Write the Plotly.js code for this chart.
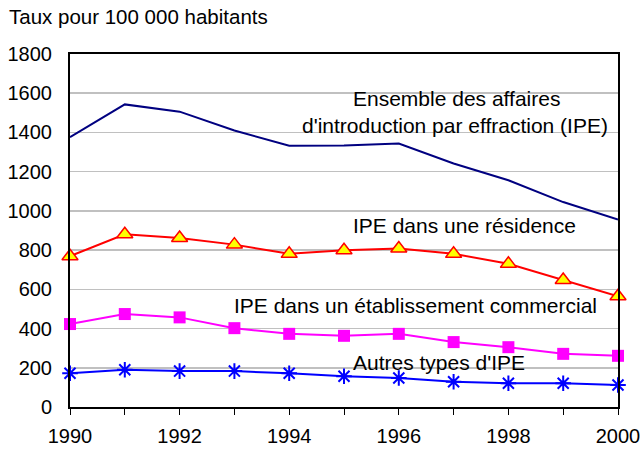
<!DOCTYPE html>
<html><head><meta charset="utf-8">
<script src="https://cdn.plot.ly/plotly-3.0.1.min.js"></script>
<style>body{margin:0;padding:0;background:#fff}#chart{width:641px;height:449px}</style>
</head><body><div id="chart"></div>
<script>
const years = [1990,1991,1992,1993,1994,1995,1996,1997,1998,1999,2000];
const ensemble = [1376,1543,1506,1410,1332,1333,1343,1242,1156,1045,956];
const residence = [769,881,862,828,781,799,808,781,730,648,565];
const commercial = [423,474,457,402,373,363,373,331,305,271,261];
const autres = [172,190,183,183,172,157,148,129,121,121,112];
const xTickVals = years;
const xTickText = years.map(y => (y % 2 === 0 ? String(y) : ''));
const yTickVals = [0,200,400,600,800,1000,1200,1400,1600,1800];

const traces = [
  {x: years, y: ensemble, mode: 'lines', line: {color: '#000080', width: 2}, cliponaxis: false},
  {x: years, y: residence, mode: 'lines+markers', line: {color: '#FF0000', width: 2},
   marker: {symbol: 'triangle-up', size: 14, color: '#FFFF00', line: {color: '#FF0000', width: 1.5}}, cliponaxis: false},
  {x: years, y: commercial, mode: 'lines+markers', line: {color: '#FF00FF', width: 2},
   marker: {symbol: 'square', size: 12, color: '#FF00FF'}, cliponaxis: false},
  {x: years, y: autres, mode: 'lines+markers', line: {color: '#0000FF', width: 2},
   marker: {symbol: 'asterisk-open', size: 13, color: '#0000FF', line: {color: '#0000FF', width: 2}}, cliponaxis: false}
];

const fontFam = 'Liberation Sans, Arial, sans-serif';
const layout = {
  width: 641, height: 449,
  margin: {l: 70, r: 23, t: 54, b: 42},
  showlegend: false,
  paper_bgcolor: '#fff', plot_bgcolor: '#fff',
  font: {family: fontFam, size: 20, color: '#000'},
  xaxis: {range: [1990, 2000], tickvals: xTickVals, ticktext: xTickText,
    showline: true, mirror: true, linecolor: '#000', linewidth: 2,
    ticks: 'outside', ticklen: 6, tickcolor: '#000', tickwidth: 1,
    showgrid: false, zeroline: false, tickfont: {size: 20}, ticklabelstandoff: 4},
  yaxis: {range: [0, 1800], tickvals: yTickVals,
    showline: true, mirror: true, linecolor: '#000', linewidth: 2,
    ticks: '', showgrid: true, gridcolor: '#C0C0C0', gridwidth: 1.5,
    zeroline: false, tickfont: {size: 20}, ticklabelstandoff: 12},
  annotations: [
    {text: 'Taux pour 100 000 habitants', xref: 'paper', yref: 'paper', x: -0.115, y: 1.105,
     xanchor: 'left', yanchor: 'middle', showarrow: false, font: {size: 20.5}},
    {text: 'Ensemble des affaires', xref: 'x', yref: 'y', x: 1997.06, y: 1573, showarrow: false, xanchor: 'center', yanchor: 'middle', font: {size: 21}},
    {text: "d'introduction par effraction (IPE)", xref: 'x', yref: 'y', x: 1997.03, y: 1436, showarrow: false, xanchor: 'center', yanchor: 'middle', font: {size: 21}},
    {text: 'IPE dans une résidence', xref: 'x', yref: 'y', x: 1997.19, y: 927, showarrow: false, xanchor: 'center', yanchor: 'middle', font: {size: 21}},
    {text: 'IPE dans un établissement commercial', xref: 'x', yref: 'y', x: 1996.3, y: 519, showarrow: false, xanchor: 'center', yanchor: 'middle', font: {size: 21}},
    {text: "Autres types d'IPE", xref: 'x', yref: 'y', x: 1996.73, y: 229, showarrow: false, xanchor: 'center', yanchor: 'middle', font: {size: 21}}
  ]
};
Plotly.newPlot('chart', traces, layout, {displayModeBar: false, staticPlot: true});
</script></body></html>
